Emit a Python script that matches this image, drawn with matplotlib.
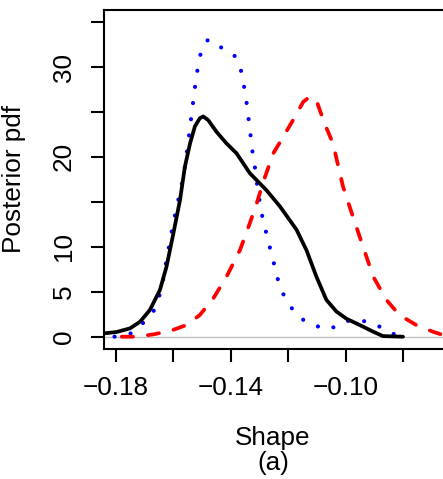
import matplotlib
matplotlib.use("Agg")
import matplotlib.pyplot as plt
import numpy as np

plt.rcParams['font.family'] = ['Liberation Sans', 'DejaVu Sans']

# Black solid curve
black_x = [-0.1842, -0.1798, -0.1751, -0.1716, -0.1682, -0.1647, -0.1624, -0.1600, -0.1577,
           -0.1560, -0.1542, -0.1525, -0.1508, -0.1496, -0.1479, -0.1450, -0.1415, -0.1380,
           -0.1334, -0.1276, -0.1229, -0.1171, -0.1136, -0.1102, -0.1067, -0.1032, -0.0997,
           -0.0951, -0.0904, -0.0870, -0.0800]
black_y = [0.37, 0.52, 0.93, 1.67, 2.97, 5.19, 7.79, 11.5, 15.2,
           18.9, 21.5, 23.4, 24.3, 24.5, 24.1, 22.8, 21.5, 20.4,
           18.2, 16.3, 14.5, 11.9, 9.6, 6.7, 4.1, 2.8, 2.0,
           1.3, 0.56, 0.07, 0.0]

# Blue dotted curve
blue_x = [-0.1805, -0.1748, -0.1707, -0.1669, -0.1649, -0.1636, -0.1626, -0.1616, -0.1606,
          -0.1595, -0.1583, -0.1571, -0.1561, -0.1553, -0.1546, -0.1539, -0.1532, -0.1525,
          -0.1517, -0.1507, -0.1495, -0.1480, -0.1460, -0.1439, -0.1410, -0.1390, -0.1366,
          -0.1355, -0.1346, -0.1339, -0.1332, -0.1326, -0.1317, -0.1310, -0.1302, -0.1293,
          -0.1280, -0.1266, -0.1252, -0.1239, -0.1221, -0.1194, -0.1157, -0.1107, -0.1055,
          -0.1003, -0.0951, -0.0896, -0.0849, -0.0794]
blue_y = [0.0, 0.37, 1.48, 2.86, 4.56, 6.30, 8.16, 9.90, 11.68,
          13.42, 15.20, 16.94, 18.72, 20.54, 22.32, 24.10, 25.92, 27.70,
          29.51, 31.26, 32.40, 33.00, 32.90, 32.26, 31.80, 31.44, 29.85,
          28.07, 26.29, 24.47, 22.69, 20.88, 19.10, 17.32, 15.54, 13.76,
          11.98, 10.20, 8.45, 6.67, 4.97, 3.41, 2.04, 1.22, 0.82,
          1.74, 1.85, 1.41, 0.44, 0.0]

# Red dashed curve
red_x = [-0.1780, -0.1728, -0.1670, -0.1612, -0.1554, -0.1508, -0.1461, -0.1415, -0.1368,
         -0.1334, -0.1310, -0.1287, -0.1252, -0.1218, -0.1183, -0.1148, -0.1125, -0.1102,
         -0.1073, -0.1044, -0.1009, -0.0974, -0.0939, -0.0904, -0.0858, -0.0812, -0.0754,
         -0.0696, -0.0661]
red_y = [0.0, 0.0, 0.26, 0.63, 1.30, 2.41, 4.26, 6.67, 9.64,
         12.6, 14.8, 17.2, 20.4, 22.2, 24.1, 26.1, 26.7, 26.3,
         23.7, 21.5, 16.7, 13.3, 10.0, 6.7, 4.1, 2.4, 1.3,
         0.56, 0.19]

x_ticks = [-0.18, -0.16, -0.14, -0.12, -0.10, -0.08]
x_ticklabels = ['\u22120.18', '', '\u22120.14', '', '\u22120.10', '']
y_ticks = [0, 5, 10, 15, 20, 25, 30, 35]
y_ticklabels = ['0', '5', '10', '', '20', '', '30', '']

W, H = 443, 479
fig = plt.figure(figsize=(W / 100, H / 100), dpi=100)
left_px, right_px, top_px, bottom_px = 104, 443, 10, 349
ax = fig.add_axes([left_px / W, 1 - bottom_px / H, (right_px - left_px) / W, (bottom_px - top_px) / H])

# x mapping: -0.18 at 116 px, 0.02 per 57.4 px
ppu_x = 57.4 / 0.02
xmin = -0.18 - (116 - left_px) / ppu_x
xmax = -0.18 + (right_px - 116) / ppu_x
# y mapping: 0 at 336.7 px, 8.99 px per unit
ppu_y = 8.99
ymin = -(bottom_px - 336.7) / ppu_y
ymax = (336.7 - top_px) / ppu_y
ax.set_xlim(xmin, xmax)
ax.set_ylim(ymin, ymax)

ax.axhline(0, color='#BEBEBE', lw=1.0, zorder=1)
ax.plot(black_x, black_y, color='black', lw=2.7, solid_capstyle='round', solid_joinstyle='round', zorder=3)
ax.plot(blue_x, blue_y, color='blue', lw=3.0, linestyle=(0, (0.01, 3.9)), dash_capstyle='round', zorder=2)
ax.plot(red_x, red_y, color='red', lw=2.7, linestyle=(0, (3.0, 4.0)), dash_capstyle='round', zorder=2)

ax.set_xticks(x_ticks)
ax.set_xticklabels(x_ticklabels)
ax.set_yticks(y_ticks)
ax.set_yticklabels(y_ticklabels, rotation=90, va='center')

for s in ['left', 'bottom', 'top']:
    ax.spines[s].set_linewidth(1.5)
ax.spines['right'].set_visible(False)
ax.tick_params(axis='both', direction='out', length=9.5, width=1.5, labelsize=18.8)
ax.tick_params(axis='x', pad=10)
ax.tick_params(axis='y', pad=11)

fig.text(14 / W, 1 - 179 / H, 'Posterior pdf', rotation=90, ha='center', va='center', fontsize=18.8)
fig.text(273 / W, 1 - 445 / H, 'Shape', ha='center', va='baseline', fontsize=18.8)
fig.text(273 / W, 1 - 470 / H, '(a)', ha='center', va='baseline', fontsize=18.8)

fig.savefig('out.png', dpi=100)
